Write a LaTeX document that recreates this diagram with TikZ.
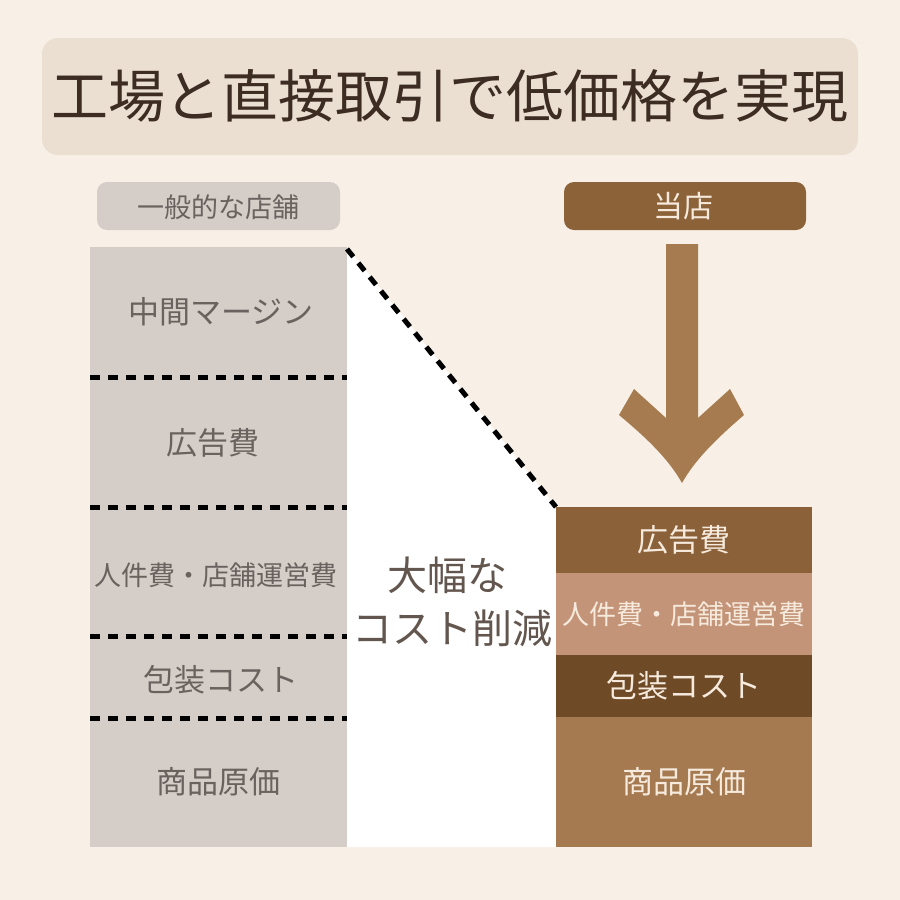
\documentclass[tikz,border=0pt]{standalone}
\usepackage{fontspec}
\setmainfont{Noto Sans CJK JP}
\usepackage{tikz}

\definecolor{bgcream}{HTML}{F8F0E6}
\definecolor{titlebox}{HTML}{EBDFD2}
\definecolor{graybox}{HTML}{D4CDC8}
\definecolor{graytext}{HTML}{6A625E}
\definecolor{darktext}{HTML}{3C2C22}
\definecolor{brownlab}{HTML}{8C6239}
\definecolor{arrowbrown}{HTML}{A57B4F}
\definecolor{adbrown}{HTML}{8B6139}
\definecolor{staffbrown}{HTML}{C49478}
\definecolor{packbrown}{HTML}{6E4A27}
\definecolor{costbrown}{HTML}{A57A50}
\definecolor{lighttext}{HTML}{F6EADD}

\begin{document}
\begin{tikzpicture}[x=1pt,y=-1pt,
    lbl/.style={inner sep=0pt,font=\fontsize{#1}{#1}\selectfont},
    lbl/.default=31,
    cut/.style={line width=5pt,dash pattern=on 10pt off 8pt}]
  \useasboundingbox (0,0) rectangle (900,900);
  \fill[bgcream] (0,0) rectangle (900,900);

  % title
  \fill[titlebox,rounded corners=16pt] (42,38) rectangle (858,155);
  \node[lbl=57,text=darktext] (title) at (450,96) {工場と直接取引で低価格を実現};

  % column headers
  \fill[graybox,rounded corners=10pt] (97,182) rectangle (340,230);
  \node[lbl=27,text=graytext] (general) at (218,207) {一般的な店舗};
  \fill[brownlab,rounded corners=10pt] (564,182) rectangle (806,230);
  \node[lbl=30,text=lighttext] (ours) at (683,206) {当店};

  % left column
  \fill[graybox] (90,247) rectangle (347,847);
  \fill[white] (347,247) -- (556,507) -- (556,847) -- (347,847) -- cycle;
  \coordinate (a0) at (90,377);  \coordinate (b0) at (347,377);
  \coordinate (a1) at (90,507);  \coordinate (b1) at (347,507);
  \coordinate (a2) at (90,636);  \coordinate (b2) at (347,636);
  \coordinate (a3) at (90,718);  \coordinate (b3) at (347,718);
  \coordinate (top) at (347,249); \coordinate (bot) at (556,507);
  \draw[cut] (a0) -- (b0); \draw[cut] (a1) -- (b1);
  \draw[cut] (a2) -- (b2); \draw[cut] (a3) -- (b3);
  \draw[cut] (top) -- (bot);

  \node[lbl,text=graytext] (l1) at (221,312) {中間マージン};
  \node[lbl,text=graytext] (l2) at (213,443) {広告費};
  \node[lbl=27,text=graytext] (l3) at (216,575) {人件費・店舗運営費};
  \node[lbl,text=graytext] (l4) at (221,680) {包装コスト};
  \node[lbl,text=graytext] (l5) at (218,782) {商品原価};

  % middle
  \node[lbl=40,text=darktext!80] (m1) at (447,575) {大幅な};
  \node[lbl=40,text=darktext!80] (m2) at (452,628) {コスト削減};

  % arrow
  \fill[arrowbrown] (666,244) -- (698,244) -- (698,418) -- (730,389)
    -- (744,415) .. controls (715,440) and (695,460) .. (682,483)
    .. controls (669,460) and (649,440) .. (619,415)
    -- (634,389) -- (666,418) -- cycle;

  % right column
  \node[lbl,fill=adbrown,minimum width=256pt,minimum height=66pt,
    text=lighttext] (r1) at (684,540) {広告費};
  \node[lbl=27,fill=staffbrown,minimum width=256pt,minimum height=82pt,
    text=lighttext] (r2) at (684,614) {人件費・店舗運営費};
  \node[lbl,fill=packbrown,minimum width=256pt,minimum height=62pt,
    text=lighttext] (r3) at (684,686) {包装コスト};
  \node[lbl,fill=costbrown,minimum width=256pt,minimum height=130pt,
    text=lighttext] (r4) at (684,782) {商品原価};
\end{tikzpicture}
\end{document}
